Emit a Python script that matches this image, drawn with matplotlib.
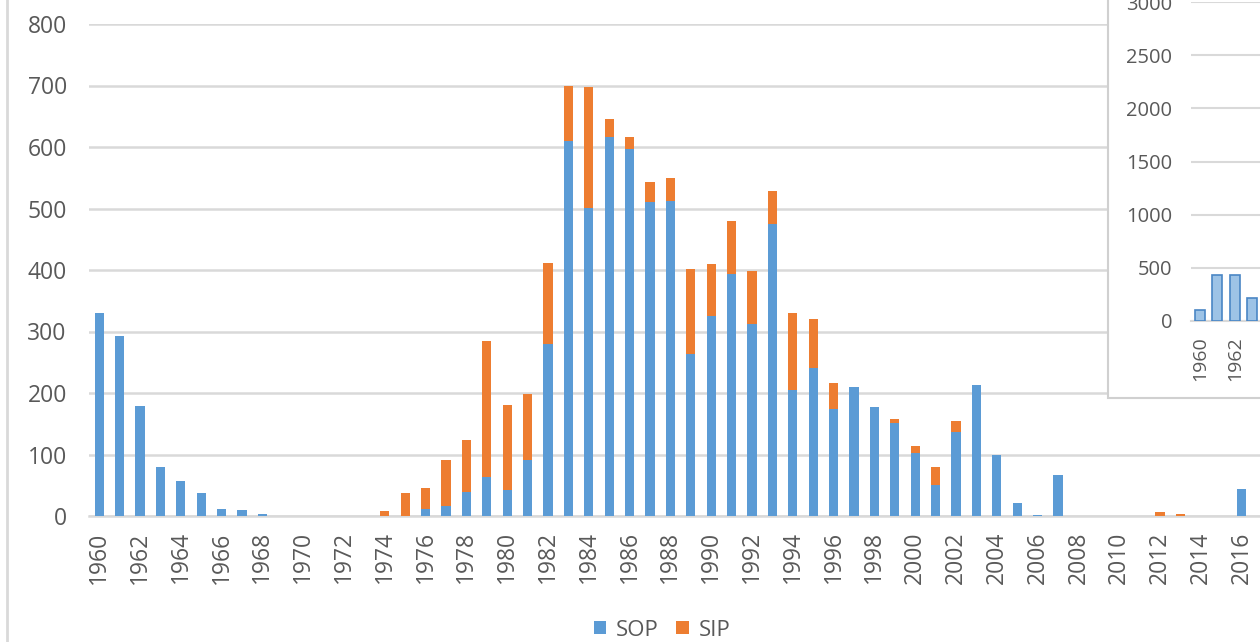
import matplotlib
matplotlib.use("Agg")
import matplotlib.pyplot as plt
from matplotlib.patches import Rectangle
from matplotlib.lines import Line2D
import numpy as np

plt.rcParams['font.family'] = ['Open Sans', 'DejaVu Sans']

years = list(range(1960, 2017))
sop = [330, 293, 179, 80, 57, 38, 11, 10, 4, 0,
       0, 0, 0, 0, 0, 0, 11, 17, 39, 63,
       43, 91, 280, 610, 501, 616, 596, 511, 512, 263,
       326, 393, 312, 474, 205, 240, 174, 210, 178, 151,
       102, 50, 137, 213, 100, 21, 2, 67, 0, 0,
       0, 0, 0, 0, 0, 0, 44]
sip = [0, 0, 0, 0, 0, 0, 0, 0, 0, 0,
       0, 0, 0, 0, 8, 37, 35, 74, 85, 221,
       137, 108, 131, 90, 196, 29, 20, 32, 37, 139,
       83, 87, 87, 55, 125, 81, 43, 0, 0, 7,
       12, 30, 18, 0, 0, 0, 0, 0, 0, 0,
       0, 0, 7, 4, 0, 0, 0]
yticks = [0, 100, 200, 300, 400, 500, 600, 700, 800]
xtick_years = list(range(1960, 2017, 2))

inset_years = [1960, 1961, 1962, 1963]
inset_vals = [100, 434, 434, 217]
inset_yticks = [0, 500, 1000, 1500, 2000, 2500, 3000]

BLUE = '#5B9BD5'
ORANGE = '#ED7D31'
GRID = '#D9D9D9'
TXT = '#595959'

W, H = 1260, 642
fig = plt.figure(figsize=(W / 100, H / 100), dpi=100)

def fbox(x0, y0, x1, y1):
    return [x0 / W, 1 - y1 / H, (x1 - x0) / W, (y1 - y0) / H]

# main axes: x 1959.5 at px 89, 20.4 px per year; y 0 at 516, 800 at 24
ax = fig.add_axes(fbox(89, 24, 89 + 20.4 * 59, 516))
ax.set_zorder(0)
yr = np.array(years)
ax.bar(yr, sop, width=0.45, color=BLUE, label='SOP', zorder=3)
ax.bar(yr, sip, width=0.45, bottom=sop, color=ORANGE, label='SIP', zorder=3)
ax.set_xlim(1959.5, 2018.5)
ax.set_ylim(0, 800)
ax.set_yticks(yticks)
ax.set_xticks(xtick_years)
ax.set_xticklabels([str(y) for y in xtick_years], rotation=90)
ax.tick_params(axis='y', length=0, pad=16, labelsize=16.5, labelcolor=TXT)
ax.tick_params(axis='x', length=0, pad=11, labelsize=16.5, labelcolor=TXT)
ax.grid(axis='y', color=GRID, linewidth=1.8, zorder=0)
for s in ['top', 'right', 'left']:
    ax.spines[s].set_visible(False)
ax.spines['bottom'].set_color(GRID)
ax.spines['bottom'].set_linewidth(1.8)

# left chart border
fig.add_artist(Line2D([6.5 / W, 6.5 / W], [0, 1], color=GRID, linewidth=2))

# inset frame
frame = Rectangle((1108 / W, 1 - 398 / H), (W + 50 - 1108) / W, 500 / H,
                  transform=fig.transFigure, facecolor='white',
                  edgecolor='#D0D0D0', linewidth=1.5, zorder=1)
fig.add_artist(frame)

iax = fig.add_axes(fbox(1191, 2, 1191 + 17.5 * 20, 321))
iax.set_zorder(2)
iax.bar(inset_years, inset_vals, width=0.58, color='#9DC3E6',
        edgecolor='#4A86C5', linewidth=1.2, zorder=3)
iax.set_xlim(1959.5, 1979.5)
iax.set_ylim(0, 3000)
iax.set_yticks(inset_yticks)
iax.set_xticks([1960, 1962])
iax.set_xticklabels(['1960', '1962'], rotation=90)
iax.tick_params(axis='y', length=0, pad=13.5, labelsize=14.5, labelcolor=TXT)
iax.tick_params(axis='x', length=0, pad=11, labelsize=14, labelcolor=TXT)
iax.grid(axis='y', color=GRID, linewidth=1.5, zorder=0)
iax.patch.set_alpha(0)
for s in ['top', 'right', 'left']:
    iax.spines[s].set_visible(False)
iax.spines['bottom'].set_color(GRID)
iax.spines['bottom'].set_linewidth(1.5)

handles, labels = ax.get_legend_handles_labels()
fig.legend(handles, labels, loc='center', bbox_to_anchor=(662 / W, 1 - 630 / H),
           ncol=2, frameon=False, fontsize=16, labelcolor=TXT,
           handlelength=0.55, handleheight=0.55, handletextpad=0.45,
           columnspacing=0.8)

fig.savefig('out.png', dpi=100)
